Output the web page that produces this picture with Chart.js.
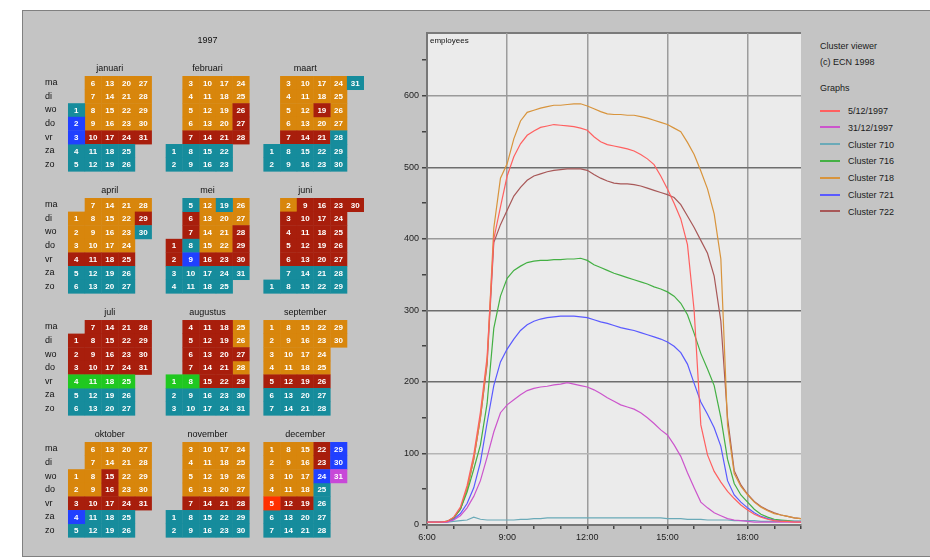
<!DOCTYPE html>
<html>
<head>
<meta charset="utf-8">
<script src="https://cdn.jsdelivr.net/npm/chart.js@4.4.1/dist/chart.umd.min.js"></script>
<style>
  html, body { margin: 0; padding: 0; background: #fff; width: 930px; height: 560px; overflow: hidden; font-family: "Liberation Sans", Arial, sans-serif; }
  #panel { position: absolute; left: 22px; top: 10px; width: 908px; height: 545px; background: #c4c4c4; border-top: 1px solid #808080; border-left: 1px solid #808080; border-bottom: 1px solid #808080; }
  #calendar { position: absolute; left: 22px; top: 10px; }
  #lines { position: absolute; left: 395px; top: 24px; }
  .lg { position: absolute; left: 820px; height: 12px; line-height: 12px; font-size: 9px; color: #1a1a1a; white-space: nowrap; }
  .sw { display: inline-block; width: 20px; height: 2px; vertical-align: middle; margin-right: 8px; margin-top: -2px; }
</style>
</head>
<body>
<div id="panel"></div>
<canvas id="calendar" width="380" height="546"></canvas>
<canvas id="lines" width="420" height="526"></canvas>
<div id="legend"></div>
<script>
// ---- calendar data: one cluster code per day of 1997 ----
const year = 1997;
const monthNames = ["januari", "februari", "maart", "april", "mei", "juni",
  "juli", "augustus", "september", "oktober", "november", "december"];
const dayNames = ["ma", "di", "wo", "do", "vr", "za", "zo"];

const januari   = "TBBTT" + "OOOORTT" + "OOOORTT" + "OOOORTT" + "OOOOR";
const februari  = "TT" + "OOOORTT" + "OOOORTT" + "OOOORTT" + "OORRR";
const maart     = "TT" + "OOOORTT" + "OOOORTT" + "OORORTT" + "OOOOTTT" + "T";
const april     = "OOORTT" + "OOOORTT" + "OOOORTT" + "OOOORTT" + "ORT";
const mei       = "RRTT" + "TRRTBTT" + "OOOORTT" + "TOOORTT" + "OORRRT";
const juni      = "T" + "ORRRRTT" + "RRRRRTT" + "RRRRRTT" + "RRRRRTT" + "R";
const juli      = "RRRGTT" + "RRRRGTT" + "RRRRGTT" + "RRRRGTT" + "RRRR";
const augustus  = "GTT" + "RRRRGTT" + "RRRRRTT" + "RRRRRTT" + "OORORTT";
const september = "OOOORTT" + "OOOORTT" + "OOOORTT" + "OOOORTT" + "OO";
const oktober   = "OORBT" + "OOOORTT" + "OORRRTT" + "OOOORTT" + "OOOOR";
const november  = "TT" + "OOOORTT" + "OOOORTT" + "OOOORTT" + "OOOORTT";
const december  = "OOOOSTT" + "OOOORTT" + "OOOORTT" + "RRBTTTT" + "BBM";
const monthCodes = [januari, februari, maart, april, mei, juni,
  juli, augustus, september, oktober, november, december];

const clusterCodes = ["O", "R", "T", "B", "G", "S", "M"];
const cellColors = { O: "#d8860c", R: "#a81e0c", T: "#168c9c", B: "#2040ff", G: "#20c820", S: "#ff3000", M: "#c848d8" };

// ---- graph data: employees present, every 15 minutes from 6:00 to 20:00 ----
const times = [];
for (let t = 6; t <= 20; t += 0.25) times.push(t);

const day0512 = [4,4,4,5,11,25,55,98,158,235, 400,445,488,515,533,545,551,556,558,560,
  559,558,557,555,552,543,536,532,530,528, 526,523,518,512,504,488,470,450,428,392,
  300,140,98,75,60,47,37,28,21,15, 11,8,6,5,5,4,4];
const day3112 = [4,4,4,4,7,13,24,40,62,95, 130,157,168,175,182,188,191,193,194,196,
  197,199,197,195,193,189,184,178,173,168, 165,162,157,150,142,133,126,112,96,73,
  52,32,24,17,13,9,7,6,5,4, 4,4,4,4,4,4,4];
const cluster710 = [4,4,4,4,5,6,7,11,8,7, 7,7,7,7,8,8,9,9,10,10,
  10,10,10,10,10,10,10,10,10,10, 10,10,10,10,10,10,9,9,9,8,
  8,8,7,7,7,7,6,6,6,6, 5,5,5,5,5,5,5];
const cluster716 = [4,4,4,5,10,22,46,78,112,170, 275,320,345,356,362,367,369,370,370,371,
  371,372,372,373,370,364,360,356,352,349, 346,343,340,337,333,330,326,320,310,294,
  268,240,218,195,150,92,58,42,32,22, 15,11,8,7,6,5,5];
const cluster718 = [4,4,4,5,10,22,50,92,150,228, 415,485,505,540,565,577,580,583,585,587,
  587,588,589,589,586,582,578,575,574,574, 573,573,571,569,566,563,560,555,550,535,
  518,495,470,435,372,140,72,54,42,32, 25,20,16,14,12,10,9];
const cluster721 = [4,4,4,5,8,16,30,52,88,143, 195,228,246,260,272,280,285,288,290,291,
  292,292,292,291,290,287,284,282,279,276, 274,272,269,266,263,260,256,250,241,225,
  198,172,155,136,110,62,42,32,24,17, 12,9,7,6,5,5,5];
const cluster722 = [4,4,4,5,10,22,50,92,150,225, 395,420,440,460,472,482,488,491,494,496,
  497,498,498,498,496,490,485,481,478,477, 477,476,474,471,468,465,462,458,448,432,
  416,398,380,348,285,150,76,56,43,33, 26,21,17,14,12,10,9];

const seriesNames = ["5/12/1997", "31/12/1997", "Cluster 710", "Cluster 716", "Cluster 718", "Cluster 721", "Cluster 722"];
const seriesValues = [day0512, day3112, cluster710, cluster716, cluster718, cluster721, cluster722];
const seriesColors = ["#ff6060", "#cc55cc", "#6aaab8", "#44b044", "#d8943c", "#5a5aff", "#a85858"];

// ---- calendar layout (in cell units) ----
const monthColStep = 5.85;
const monthRowStep = 8.97;

const cells = [];
monthCodes.forEach((codes, m) => {
  const first = (new Date(year, m, 1).getDay() + 6) % 7;
  const bx = (m % 3) * monthColStep;
  const by = Math.floor(m / 3) * monthRowStep;
  for (let d = 1; d <= codes.length; d++) {
    const row = (new Date(year, m, d).getDay() + 6) % 7;
    const col = Math.floor((d - 1 + first) / 7);
    cells.push({ x: bx + col + 0.5, y: by + row + 0.5, day: d, code: codes[d - 1] });
  }
});

const calendarPlugin = {
  id: "calendarCells",
  afterDatasetsDraw(chart) {
    const ctx = chart.ctx;
    const xs = chart.scales.x, ys = chart.scales.y;
    const w = Math.abs(xs.getPixelForValue(1) - xs.getPixelForValue(0));
    const h = Math.abs(ys.getPixelForValue(1) - ys.getPixelForValue(0));
    ctx.save();
    chart.data.datasets.forEach((ds, i) => {
      const meta = chart.getDatasetMeta(i);
      meta.data.forEach((pt) => {
        ctx.fillStyle = ds.cellColor;
        ctx.fillRect(pt.x - w / 2, pt.y - h / 2, w + 0.4, h + 0.4);
      });
    });
    ctx.fillStyle = "#fff";
    ctx.font = 'bold 8px "Liberation Sans", Arial, sans-serif';
    ctx.textAlign = "center";
    ctx.textBaseline = "middle";
    chart.data.datasets.forEach((ds, i) => {
      const meta = chart.getDatasetMeta(i);
      meta.data.forEach((pt, j) => {
        ctx.fillText(String(ds.data[j].day), pt.x, pt.y + 0.5);
      });
    });

    ctx.fillStyle = "#111";
    ctx.font = '9px "Liberation Sans", Arial, sans-serif';
    ctx.fillText(String(year), xs.getPixelForValue(monthColStep + 2.5), ys.getPixelForValue(-2.6));
    monthNames.forEach((name, m) => {
      const bx = (m % 3) * monthColStep;
      const by = Math.floor(m / 3) * monthRowStep;
      ctx.fillText(name, xs.getPixelForValue(bx + 2.5), ys.getPixelForValue(by - 0.55));
    });
    ctx.textAlign = "left";
    for (let b = 0; b < 4; b++) {
      dayNames.forEach((name, r) => {
        ctx.fillText(name, xs.getPixelForValue(-1.38), ys.getPixelForValue(b * monthRowStep + r + 0.5));
      });
    }
    ctx.restore();
  }
};

new Chart(document.getElementById("calendar"), {
  type: "scatter",
  data: {
    datasets: clusterCodes.map((code) => ({
      data: cells.filter((c) => c.code === code),
      cellColor: cellColors[code],
      pointRadius: 0,
      pointHitRadius: 0
    }))
  },
  options: {
    responsive: false,
    animation: false,
    events: [],
    layout: { padding: 0 },
    plugins: { legend: { display: false }, tooltip: { enabled: false } },
    scales: {
      x: { type: "linear", display: false, min: -2.754, max: 20.0 },
      y: { type: "linear", display: false, reverse: true, min: -4.853, max: 35.29 }
    }
  },
  plugins: [calendarPlugin]
});

// ---- line graph ----
const plotBackground = {
  id: "plotBackground",
  beforeDraw(chart) {
    const { ctx, chartArea: a } = chart;
    ctx.save();
    ctx.fillStyle = "#ebebeb";
    ctx.fillRect(a.left, a.top, a.right - a.left, a.bottom - a.top);
    ctx.strokeStyle = "#7a7a7a";
    ctx.lineWidth = 2;
    ctx.beginPath();
    ctx.moveTo(a.left, a.top);
    ctx.lineTo(a.right, a.top);
    ctx.stroke();
    ctx.restore();
  },
  afterDraw(chart) {
    const { ctx, chartArea: a } = chart;
    ctx.save();
    ctx.fillStyle = "#111";
    ctx.font = '8px "Liberation Sans", Arial, sans-serif';
    ctx.textBaseline = "middle";
    ctx.fillText("employees", a.left + 3, a.top + 8);
    ctx.restore();
  }
};

function yGridColor(v) {
  if (v % 100 !== 0 || v === 0) return "rgba(0,0,0,0)";
  if (v === 500 || v === 300 || v === 200) return "#6e6e6e";
  if (v === 100) return "#b5b5b5";
  return "#9a9a9a";
}

const tickFont = { family: '"Liberation Sans", Arial, sans-serif', size: 9 };

new Chart(document.getElementById("lines"), {
  type: "line",
  data: {
    datasets: seriesNames.map((name, i) => ({
      label: name,
      data: times.map((t, k) => ({ x: t, y: seriesValues[i][k] })),
      borderColor: seriesColors[i],
      borderWidth: 1.2,
      pointRadius: 0,
      tension: 0,
      fill: false
    }))
  },
  options: {
    responsive: false,
    animation: false,
    events: [],
    layout: { padding: { top: 9, right: 14, left: 0, bottom: 0 } },
    plugins: { legend: { display: false }, tooltip: { enabled: false } },
    scales: {
      x: {
        type: "linear",
        min: 6,
        max: 20,
        afterFit: (s) => { s.height = 25; },
        ticks: {
          stepSize: 1,
          autoSkip: false,
          maxRotation: 0,
          padding: 3,
          color: "#222",
          font: tickFont,
          callback: (v) => (v % 3 === 0 ? v + ":00" : "")
        },
        grid: {
          color: (c) => ([9, 12, 15, 18].includes(c.tick && c.tick.value) ? "#9c9c9c" : "rgba(0,0,0,0)"),
          lineWidth: 1.5,
          tickColor: "#444",
          tickLength: 4
        },
        border: { color: "#777", width: 2 }
      },
      y: {
        type: "linear",
        min: 0,
        max: 688,
        afterFit: (s) => { s.width = 32; },
        afterBuildTicks: (s) => { s.ticks = s.ticks.filter((t) => t.value % 50 === 0); },
        ticks: {
          stepSize: 50,
          padding: 3,
          color: "#222",
          font: tickFont,
          callback: (v) => (v % 100 === 0 ? v : "")
        },
        grid: {
          color: (c) => yGridColor(c.tick ? c.tick.value : 1),
          lineWidth: 1.5,
          tickColor: "#444",
          tickLength: 5
        },
        border: { color: "#777", width: 2 }
      }
    }
  },
  plugins: [plotBackground]
});

// ---- legend ----
const legend = document.getElementById("legend");
const headers = [["Cluster viewer", 46], ["(c) ECN 1998", 62], ["Graphs", 88]];
headers.forEach(([text, cy]) => {
  const el = document.createElement("div");
  el.className = "lg";
  el.style.top = (cy - 6) + "px";
  el.textContent = text;
  legend.appendChild(el);
});
seriesNames.forEach((name, i) => {
  const el = document.createElement("div");
  el.className = "lg";
  el.style.top = (111 + i * 16.8 - 6) + "px";
  const sw = document.createElement("span");
  sw.className = "sw";
  sw.style.background = seriesColors[i];
  el.appendChild(sw);
  el.appendChild(document.createTextNode(name));
  legend.appendChild(el);
});
</script>
</body>
</html>
